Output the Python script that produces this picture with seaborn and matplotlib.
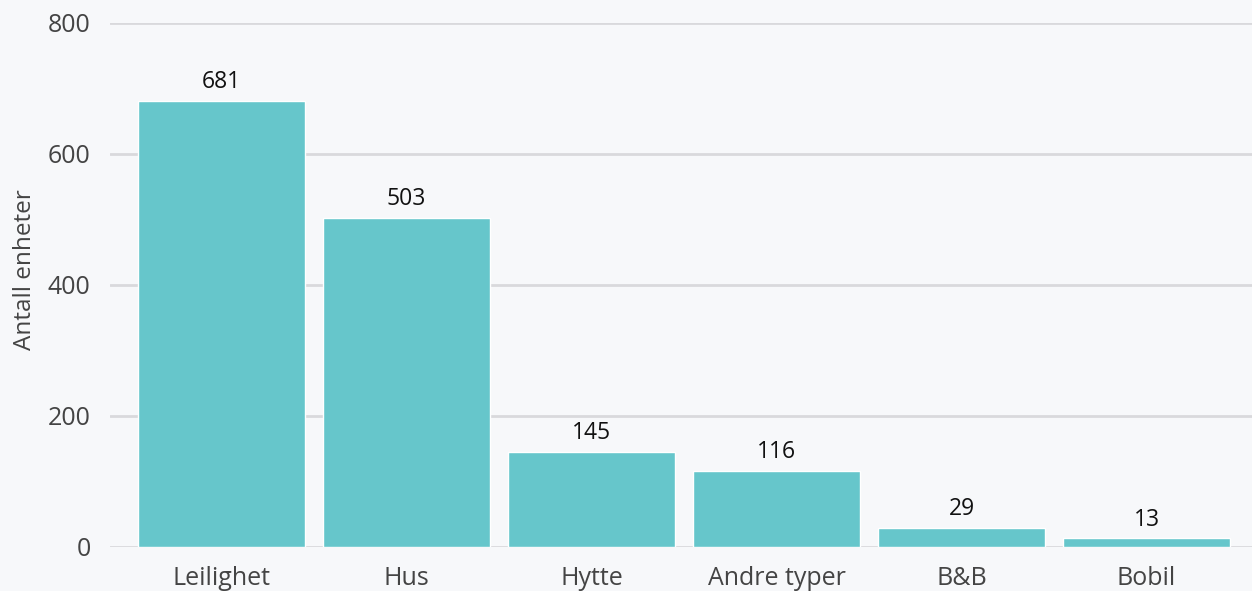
import pandas as pd
import matplotlib.pyplot as plt
import seaborn as sns

# data
categories = ["Leilighet", "Hus", "Hytte", "Andre typer", "B&B", "Bobil"]
counts = [681, 503, 145, 116, 29, 13]
y_ticks = [0, 200, 400, 600, 800]

df = pd.DataFrame({"type": categories, "antall": counts})

bg = "#f7f8fa"
sns.set_theme(style="whitegrid")
plt.rcParams["font.family"] = ["Open Sans", "DejaVu Sans"]

fig = plt.figure(figsize=(12.52, 5.91), dpi=100, facecolor=bg)
ax = fig.add_axes([0.0879, 0.0745, 0.9121, 0.8866], facecolor=bg)

sns.barplot(data=df, x="type", y="antall", color="#66c6cb", saturation=1,
            width=0.9, ax=ax, zorder=3)

for i, v in enumerate(counts):
    ax.text(i, v + 10, str(v), ha="center", va="bottom", fontsize=16.5,
            color="#111111", zorder=4)

ax.set_ylim(0, 800)
ax.set_xlim(-0.603, 5.57)
ax.set_yticks(y_ticks)
ax.set_yticklabels([str(t) for t in y_ticks])
ax.grid(axis="y", color="#d9d9dc", linewidth=2, zorder=0)
ax.grid(axis="x", visible=False)
for s in ax.spines.values():
    s.set_visible(False)

ax.tick_params(axis="y", labelsize=18, labelcolor="#444444", length=0, pad=14)
ax.tick_params(axis="x", labelsize=18, labelcolor="#444444", length=0, pad=14)
ax.set_xlabel("")
ax.set_ylabel("Antall enheter", fontsize=17.5, color="#444444")
ax.yaxis.set_label_coords(-0.064, 0.529)

fig.savefig("out.png", dpi=100, facecolor=bg)
